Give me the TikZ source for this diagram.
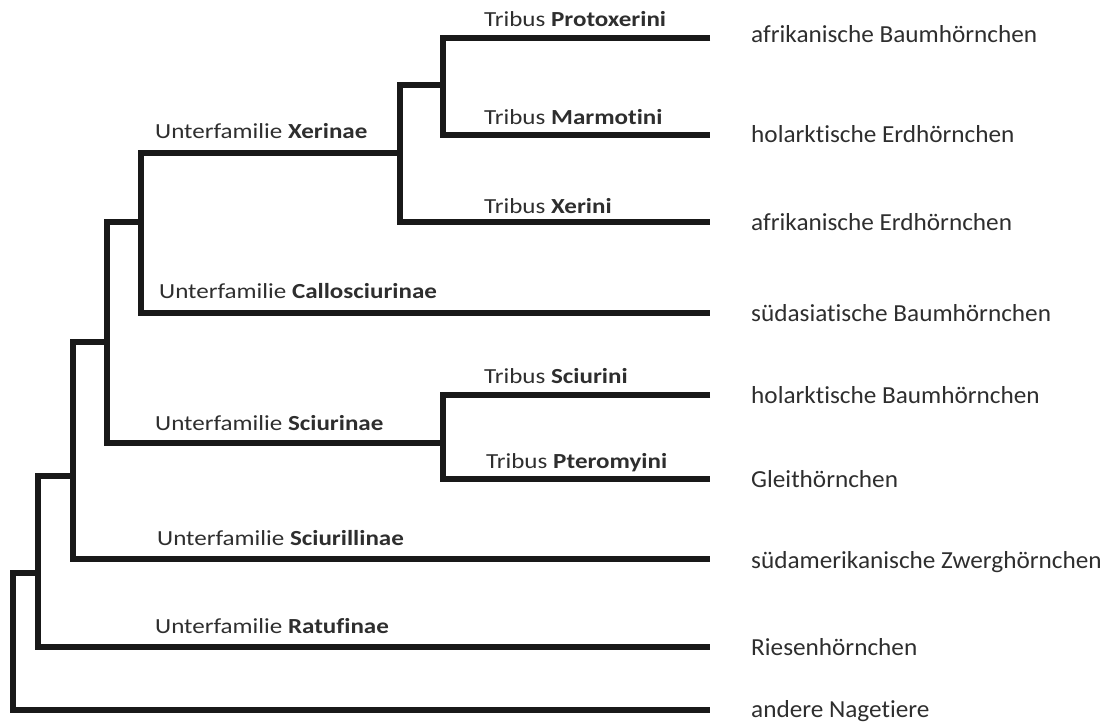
\documentclass[tikz,border=0pt]{standalone}
\usepackage{fontspec}
\setmainfont{Carlito}[Ligatures=NoCommon]
\newfontfamily\taxonfont{Carlito}[Ligatures=NoCommon,FakeStretch=1.165]
\newfontfamily\leaffont{Carlito}[Ligatures=NoCommon,FakeStretch=1.03]
\begin{document}
\begin{tikzpicture}[x=1pt,y=-1pt,
  branch/.style={line width=5.2pt,draw=black!90,line join=miter},
  taxon/.style={anchor=base west,inner sep=0pt,text=black!82,font=\taxonfont\fontsize{21.5}{25}\selectfont},
  leaf/.style={anchor=base west,inner sep=0pt,text=black!82,font=\leaffont\fontsize{24.5}{28}\selectfont}]
\useasboundingbox (0,0) rectangle (1107,722);

% leaf ends of the branches
\coordinate (eProto) at (710,38);
\coordinate (eMarmo) at (710,135);
\coordinate (eXerini) at (710,222);
\coordinate (eCallo) at (710,313);
\coordinate (eSciurini) at (710,395);
\coordinate (ePtero) at (710,479);
\coordinate (eSciurill) at (710,559);
\coordinate (eRatu) at (710,647);
\coordinate (eOther) at (710,710);

% inner nodes: top and bottom of each vertical bar, and attachment points
\coordinate (root) at (13,573);
\coordinate (nA) at (38,573);   \coordinate (A1) at (38,476);  \coordinate (A2) at (38,647);
\coordinate (nB) at (73,476);   \coordinate (B1) at (73,342);  \coordinate (B2) at (73,559);
\coordinate (nC) at (107,342);  \coordinate (C1) at (107,222); \coordinate (C2) at (107,443);
\coordinate (nD) at (141,222);  \coordinate (D1) at (141,153); \coordinate (D2) at (141,313);
\coordinate (nE) at (400,153);  \coordinate (E1) at (400,85);  \coordinate (E2) at (400,222);
\coordinate (nF) at (443,85);   \coordinate (F1) at (443,38);  \coordinate (F2) at (443,135);
\coordinate (nS) at (443,443);  \coordinate (S1) at (443,395); \coordinate (S2) at (443,479);

% branches
\draw[branch] (nA) -- (root) |- (eOther);
\draw[branch] (nB) -- (A1) -- (A2) -- (eRatu);
\draw[branch] (nC) -- (B1) -- (B2) -- (eSciurill);
\draw[branch] (nD) -- (C1) -- (C2) -- (nS);
\draw[branch] (nE) -- (D1) -- (D2) -- (eCallo);
\draw[branch] (nF) -- (E1) -- (E2) -- (eXerini);
\draw[branch] (eProto) -- (F1) -- (F2) -- (eMarmo);
\draw[branch] (eSciurini) -- (S1) -- (S2) -- (ePtero);

% taxon labels above the branches
\node[taxon] (lXerinae) at (155,139) {Unterfamilie \textbf{Xerinae}};
\node[taxon] (lCallo) at (159,298) {Unterfamilie \textbf{Callosciurinae}};
\node[taxon] (lSciurinae) at (155,430) {Unterfamilie \textbf{Sciurinae}};
\node[taxon] (lSciurill) at (157,545) {Unterfamilie \textbf{Sciurillinae}};
\node[taxon] (lRatu) at (155,633) {Unterfamilie \textbf{Ratufinae}};
\node[taxon] (lProto) at (484,27) {Tribus \textbf{Protoxerini}};
\node[taxon] (lMarmo) at (484,125) {Tribus \textbf{Marmotini}};
\node[taxon] (lXerini) at (484,213) {Tribus \textbf{Xerini}};
\node[taxon] (lSciurini) at (484,383) {Tribus \textbf{Sciurini}};
\node[taxon] (lPtero) at (486,468) {Tribus \textbf{Pteromyini}};

% common names at the tips
\node[leaf] (tProto) at (751,43) {afrikanische Baumhörnchen};
\node[leaf] (tMarmo) at (751,143) {holarktische Erdhörnchen};
\node[leaf] (tXerini) at (751,230) {afrikanische Erdhörnchen};
\node[leaf] (tCallo) at (751,321) {südasiatische Baumhörnchen};
\node[leaf] (tSciurini) at (751,403) {holarktische Baumhörnchen};
\node[leaf] (tPtero) at (751,487) {Gleithörnchen};
\node[leaf] (tSciurill) at (751,568) {südamerikanische Zwerghörnchen};
\node[leaf] (tRatu) at (751,655) {Riesenhörnchen};
\node[leaf] (tOther) at (751,717) {andere Nagetiere};
\end{tikzpicture}
\end{document}
